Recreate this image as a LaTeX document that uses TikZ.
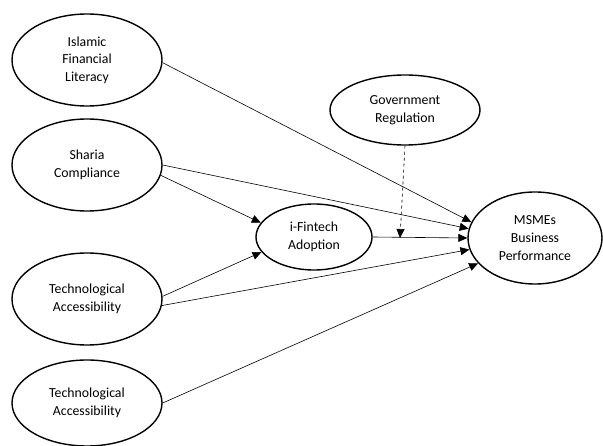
\documentclass[tikz,border=0pt]{standalone}
\usepackage{fontspec}
\setmainfont{Carlito}
\usetikzlibrary{shapes.geometric,arrows.meta}
\begin{document}
\begin{tikzpicture}[x=1pt,y=-1pt,
  var/.style={ellipse,draw,line width=1.4pt,minimum width=150pt,minimum height=92pt,inner sep=0pt,align=center,font=\fontsize{13.8}{17.6}\selectfont},
  path/.style={line width=0.6pt,-{Triangle[length=9pt,width=8pt]}},
  dpath/.style={path,dashed}]
\useasboundingbox (0,0) rectangle (603,446);
\node[var] (ifl) at (87,60) {Islamic\\Financial\\Literacy};
\node[var] (sc) at (87,165) {Sharia\\Compliance};
\node[var] (ta1) at (87,299) {Technological\\Accessibility};
\node[var,minimum height=86pt] (ta2) at (87,403) {Technological\\Accessibility};
\node[var,minimum width=116pt,minimum height=66pt] (fa) at (314,237) {i-Fintech\\Adoption};
\node[var,minimum height=70pt] (gr) at (405,110) {Government\\Regulation};
\node[var,minimum width=134pt,minimum height=92pt] (msme) at (535,238) {MSMEs\\Business\\Performance};
\coordinate (mod) at (400,238);
\draw[path] (ifl.-2) -- (msme.166);
\draw[path] (sc.east) -- (msme.172);
\draw[path] (sc.-8) -- (fa.165);
\draw[path] (ta1.2) -- (fa.196);
\draw[path] (ta1.-5) -- (msme.190);
\draw[path] (ta2.east) -- (msme.204);
\draw[path] (fa.east) -- (msme.180);
\draw[dpath] (gr.south) -- (mod);
\end{tikzpicture}
\end{document}
